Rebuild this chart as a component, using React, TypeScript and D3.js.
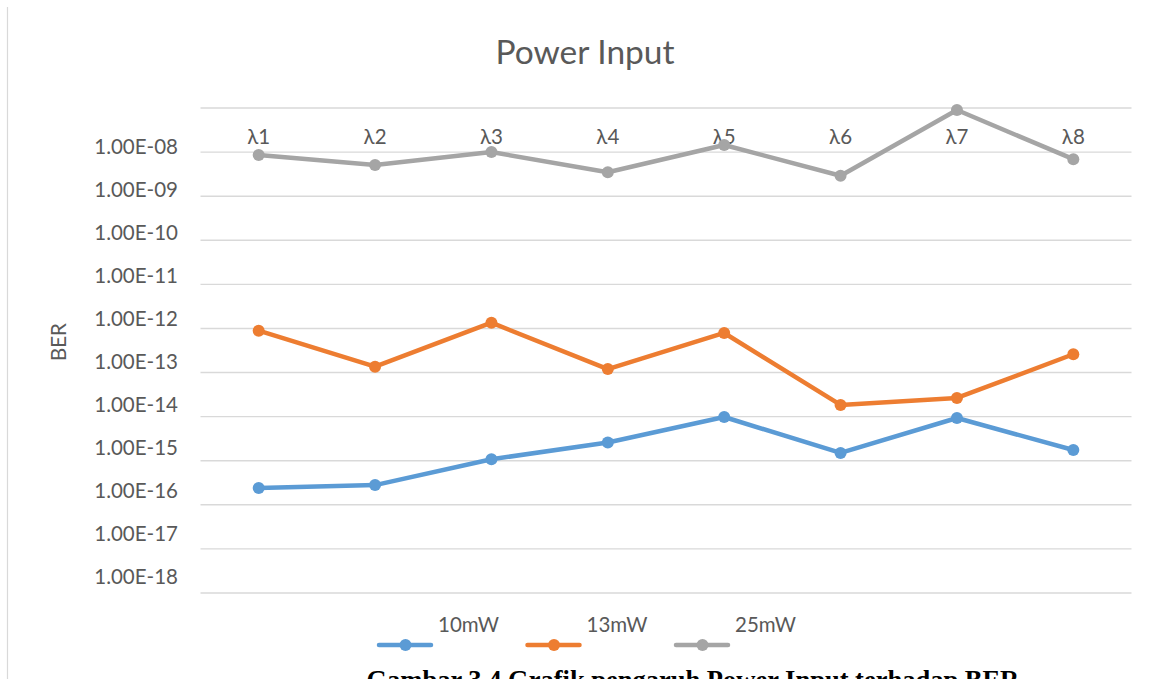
import React from "react";
import * as d3 from "d3";

const categories = ["λ1", "λ2", "λ3", "λ4", "λ5", "λ6", "λ7", "λ8"];
const series10mW = [2.4e-16, 2.8e-16, 1.08e-15, 2.6e-15, 9.8e-15, 1.5e-15, 9.3e-15, 1.75e-15];
const series13mW = [8.9e-13, 1.36e-13, 1.35e-12, 1.2e-13, 7.9e-13, 1.84e-14, 2.65e-14, 2.6e-13];
const series25mW = [8.6e-9, 5.1e-9, 1.0e-8, 3.5e-9, 1.45e-8, 2.9e-9, 9.0e-8, 6.9e-9];
const seriesNames = ["10mW", "13mW", "25mW"];
const seriesColors = ["#5B9BD5", "#ED7D31", "#A5A5A5"];
const gridValues = [1e-7, 1e-8, 1e-9, 1e-10, 1e-11, 1e-12, 1e-13, 1e-14, 1e-15, 1e-16, 1e-17, 1e-18];
const tickLabels = ["1.00E-08", "1.00E-09", "1.00E-10", "1.00E-11", "1.00E-12", "1.00E-13", "1.00E-14", "1.00E-15", "1.00E-16", "1.00E-17", "1.00E-18"];
const tickLabelValues = [1e-8, 1e-9, 1e-10, 1e-11, 1e-12, 1e-13, 1e-14, 1e-15, 1e-16, 1e-17, 1e-18];
const title = "Power Input";
const yTitle = "BER";
const caption = "Gambar 3.4 Grafik pengaruh Power Input terhadap BER";

const W = 1149;
const H = 679;
const FONT = "Lato, 'Open Sans', sans-serif";
const TEXT = "#595959";

export default function App() {
  const allSeries = [series10mW, series13mW, series25mW];
  const x = d3.scaleBand<string>().domain(categories).range([200.5, 1131.5]);
  const y = d3.scaleLog().domain([1e-18, 1e-7]).range([593, 108]);
  const yLabel = d3.scaleLog().domain([1e-18, 1e-8]).range([577, 147]);
  const cx = (c: string) => (x(c) as number) + x.bandwidth() / 2;
  const line = d3
    .line<number>()
    .x((_, i) => cx(categories[i]))
    .y((d) => y(d));

  const legendX = d3.scaleLinear().domain([0, 1]).range([377, 525.5]);

  return (
    <svg
      width={W}
      height={H}
      style={{ position: "absolute", left: 0, top: 0, background: "#fff" }}
      fontFamily={FONT}
    >
      <rect x={0} y={0} width={W} height={H} fill="#fff" />
      <line x1={7.5} x2={7.5} y1={7} y2={H} stroke="#D9D9D9" strokeWidth={1.2} />
      <text x={585} y={63.5} textAnchor="middle" fontSize={33.5} fill={TEXT}>
        {title}
      </text>
      {gridValues.map((v) => (
        <line
          key={"g" + v}
          x1={x.range()[0]}
          x2={x.range()[1]}
          y1={y(v)}
          y2={y(v)}
          stroke="#D9D9D9"
          strokeWidth={1.4}
        />
      ))}
      {tickLabelValues.map((v, i) => (
        <text
          key={"t" + v}
          x={178}
          y={yLabel(v)}
          dy="0.36em"
          textAnchor="end"
          fontSize={20.5}
          fill={TEXT}
        >
          {tickLabels[i]}
        </text>
      ))}
      <text
        transform={`translate(66,342) rotate(-90)`}
        textAnchor="middle"
        fontSize={20.5}
        fill={TEXT}
      >
        {yTitle}
      </text>
      {categories.map((c) => (
        <text key={"c" + c} x={cx(c)} y={144} textAnchor="middle" fontSize={20.5} fill={TEXT}>
          {c}
        </text>
      ))}
      {allSeries.map((s, si) => (
        <g key={"s" + si}>
          <path
            d={line(s) || ""}
            fill="none"
            stroke={seriesColors[si]}
            strokeWidth={4.5}
            strokeLinejoin="round"
            strokeLinecap="round"
          />
          {s.map((v, i) => (
            <circle key={i} cx={cx(categories[i])} cy={y(v)} r={6} fill={seriesColors[si]} />
          ))}
        </g>
      ))}
      {seriesNames.map((n, i) => {
        const lx = legendX(i);
        return (
          <g key={"l" + n}>
            <line
              x1={lx + 2}
              x2={lx + 54}
              y1={645}
              y2={645}
              stroke={seriesColors[i]}
              strokeWidth={4.5}
              strokeLinecap="round"
            />
            <circle cx={lx + 28.5} cy={645} r={6} fill={seriesColors[i]} />
            <text x={lx + 61} y={632} fontSize={20.5} fill={TEXT}>
              {n}
            </text>
          </g>
        );
      })}
      <text
        x={366.5}
        y={688.5}
        fontFamily="'Liberation Serif', 'Times New Roman', serif"
        fontWeight="bold"
        fontSize={26.5}
        fill="#000"
      >
        {caption}
      </text>
    </svg>
  );
}
